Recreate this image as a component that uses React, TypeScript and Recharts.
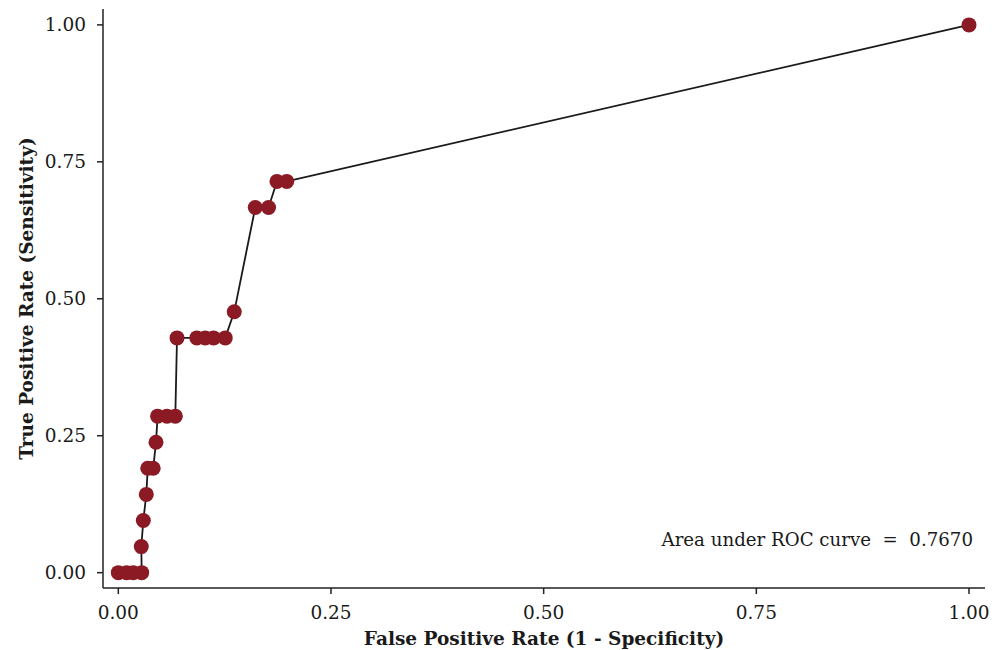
import React from 'react';
import { LineChart, Line, XAxis, YAxis, Customized } from 'recharts';

const fpr = [0, 0.0098, 0.0176, 0.0275, 0.027, 0.0294, 0.0329, 0.0346, 0.041, 0.0443, 0.0462, 0.0572, 0.067, 0.069, 0.0923, 0.1021, 0.112, 0.1257, 0.1363, 0.161, 0.1766, 0.1865, 0.198, 1];
const tpr = [0, 0, 0, 0, 0.0476, 0.0952, 0.1429, 0.1905, 0.1905, 0.2381, 0.2857, 0.2857, 0.2857, 0.4286, 0.4286, 0.4286, 0.4286, 0.4286, 0.4762, 0.6667, 0.6667, 0.7143, 0.7143, 1];
const xTicks = [0, 0.25, 0.5, 0.75, 1];
const yTicks = [0, 0.25, 0.5, 0.75, 1];
const xTitle = 'False Positive Rate (1 - Specificity)';
const yTitle = 'True Positive Rate (Sensitivity)';
const aucLabel = 'Area under ROC curve  =  0.7670';

const data = fpr.map((x, i) => ({ fpr: x, tpr: tpr[i] }));

const FONT = '"DejaVu Serif", serif';
const tickStyle = { fontFamily: FONT, fontSize: 18.5, fill: '#1a1a1a' };
const titleStyle = { fontFamily: FONT, fontSize: 18.5, fontWeight: 700, fill: '#1a1a1a' };

const Annotation = () => (
  <text x={973} y={546} textAnchor="end" style={{ fontFamily: FONT, fontSize: 18.2, fill: '#1a1a1a', whiteSpace: 'pre' }}>
    {aucLabel}
  </text>
);

export default function App() {
  return (
    <div style={{ position: 'absolute', left: 0, top: 0, background: '#fff' }}>
      <LineChart width={994} height={650} data={data} margin={{ top: 9, right: 9, left: 0, bottom: 0 }}>
        <XAxis
          dataKey="fpr"
          type="number"
          domain={[-0.018, 1.0188]}
          ticks={xTicks}
          allowDataOverflow
          tickFormatter={(v: number) => v.toFixed(2)}
          tickSize={6}
          tickMargin={12}
          height={62}
          stroke="#222"
          strokeWidth={1.5}
          tick={tickStyle}
          label={{ value: xTitle, position: 'insideBottom', offset: 5, style: titleStyle }}
        />
        <YAxis
          type="number"
          domain={[-0.028, 1.029]}
          ticks={yTicks}
          allowDataOverflow
          tickFormatter={(v: number) => v.toFixed(2)}
          tickSize={6}
          tickMargin={11}
          width={103}
          stroke="#222"
          strokeWidth={1.5}
          tick={tickStyle}
          label={{ value: yTitle, angle: -90, position: 'insideLeft', offset: 26, style: { ...titleStyle, textAnchor: 'middle' } }}
        />
        <Line
          dataKey="tpr"
          type="linear"
          stroke="#1a1a1a"
          strokeWidth={1.8}
          dot={{ r: 7.5, fill: '#8b1a24', stroke: 'none', fillOpacity: 1 }}
          activeDot={false}
          isAnimationActive={false}
        />
        <Customized component={Annotation} />
      </LineChart>
    </div>
  );
}
